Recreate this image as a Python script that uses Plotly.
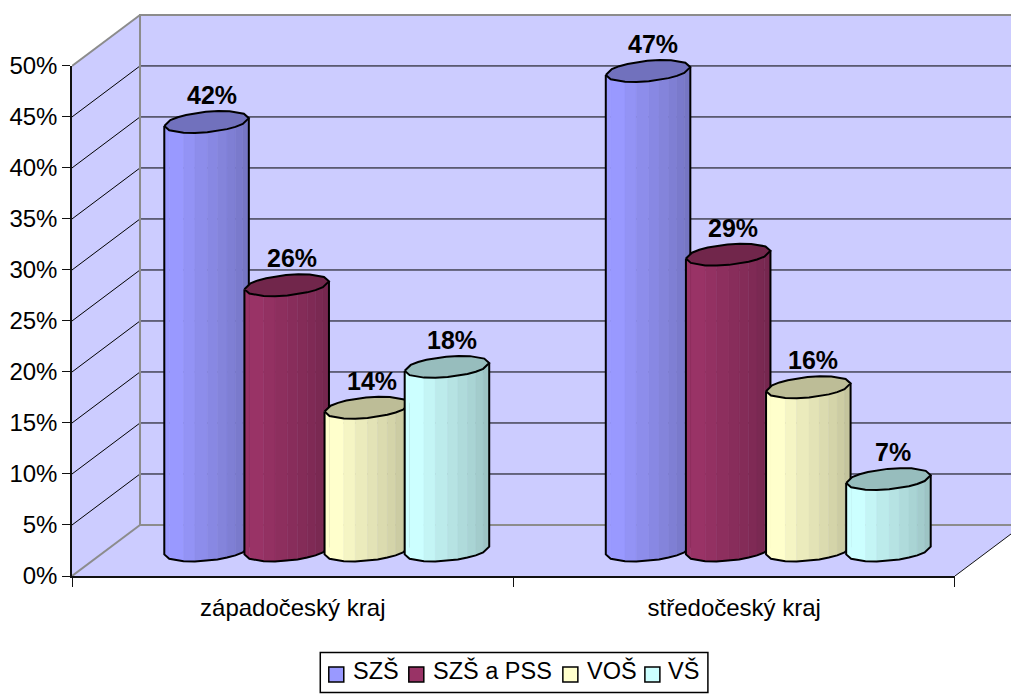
import numpy as np
import plotly.graph_objects as go

# Chart data
regions = ["západočeský kraj", "středočeský kraj"]
series_names = ["SZŠ", "SZŠ a PSS", "VOŠ", "VŠ"]
szs = [42, 47]
szs_pss = [26, 29]
vos = [14, 16]
vs = [18, 7]
series_values = [szs, szs_pss, vos, vs]
percent_ticks = [0, 5, 10, 15, 20, 25, 30, 35, 40, 45, 50]

# Colours
base_colors = [(153, 153, 255), (153, 51, 102), (255, 255, 204), (204, 255, 255)]
WALL = "#CCCCFF"
WALL_EDGE = "#8C8C8C"

# Page geometry, in pixels
W, H = 1011, 695
LEFT, BOTTOM = 72.3, 118.5
PX_PER_REGION = 441.35
PX_PER_PCT = 10.21
PLOT_W, PLOT_H = W - LEFT, H - BOTTOM

# Legend box layout, in page pixels
LEGEND_BOX = (320.5, 653, 708, 693)
LEGEND_SWATCH_X = [329, 409, 563, 645]
LEGEND_TEXT_X = [351, 431, 585, 666]
LEGEND_SWATCH_SIZE = 15
LEGEND_MID_Y = 671

# Oblique depth of the 3D box, in axis units
DEPTH_X = 68 / PX_PER_REGION
DEPTH_Y = 5.0

# Cylinder shape, in axis units
BAR_STEP = 0.1815
RAD_X = 39.5 / PX_PER_REGION
SHEAR_X = 15 / PX_PER_REGION
RAD_Y = 11 / PX_PER_PCT
T0 = np.arctan2(SHEAR_X, RAD_X)

# Facet edges across the visible face (degrees from the left silhouette) and their shading
FACET_DEG = [0, 28, 57, 74, 91, 105, 119, 133, 149, 180]
FACET_SHADE = [1.0, 1.0, 0.96, 0.92, 0.89, 0.86, 0.83, 0.80, 0.77]
TOP_SHADE = 0.74


def rgb(color, k=1.0):
    return "rgb({},{},{})".format(*[int(round(c * k)) for c in color])


def ring(cx, cy, angles):
    t = np.asarray(angles)
    return cx + RAD_X * np.cos(t) + SHEAR_X * np.sin(t), cy + RAD_Y * np.sin(t)


def poly(xs, ys, fill=None, line=None, width=0):
    return go.Scatter(
        x=list(xs), y=list(ys), mode="lines", xaxis="x", yaxis="y",
        fill="toself" if fill else "none", fillcolor=fill,
        line=dict(color=line or "rgba(0,0,0,0)", width=width),
        hoverinfo="skip", showlegend=False,
    )


def page_x(px):
    return (px - LEFT) / PLOT_W


def page_y(px):
    return (PLOT_H - px) / PLOT_H


fig = go.Figure()

# Walls and floor of the box
fig.add_trace(poly([0, 2, 2 + DEPTH_X, DEPTH_X, 0], [0, 0, DEPTH_Y, DEPTH_Y, 0], WALL))
fig.add_trace(poly([0, DEPTH_X, DEPTH_X, 0, 0], [0, DEPTH_Y, 50 + DEPTH_Y, 50, 0], WALL))
fig.add_trace(poly([DEPTH_X, 2 + DEPTH_X, 2 + DEPTH_X, DEPTH_X, DEPTH_X],
                   [DEPTH_Y, DEPTH_Y, 50 + DEPTH_Y, 50 + DEPTH_Y, DEPTH_Y], WALL))

# Gridlines over the side wall and back wall
for p in percent_ticks[1:-1]:
    fig.add_trace(poly([0, DEPTH_X, 2 + DEPTH_X], [p, p + DEPTH_Y, p + DEPTH_Y], line="#000000", width=1))

# Wall edges and the right side of the floor
fig.add_trace(poly([2 + DEPTH_X, DEPTH_X, DEPTH_X, 2 + DEPTH_X],
                   [DEPTH_Y, DEPTH_Y, 50 + DEPTH_Y, 50 + DEPTH_Y], line=WALL_EDGE, width=2))
fig.add_trace(poly([0, DEPTH_X], [0, DEPTH_Y], line=WALL_EDGE, width=2))
fig.add_trace(poly([0, DEPTH_X], [50, 50 + DEPTH_Y], line=WALL_EDGE, width=2))
fig.add_trace(poly([2, 2 + DEPTH_X], [0, DEPTH_Y], line="#111111", width=1))

# Cylinders, drawn left to right so each one overlaps its left neighbour
front_angles = T0 + np.pi + np.radians(FACET_DEG)
back_angles = T0 + np.radians(FACET_DEG)
all_angles = np.concatenate([front_angles[:-1], back_angles[:-1], front_angles[:1]])
annotations = []

for r in range(len(regions)):
    for s, values in enumerate(series_values):
        v = values[r]
        cx = r + 0.5 + DEPTH_X / 2 + (s - 1.5) * BAR_STEP
        cy = DEPTH_Y / 2
        color = base_colors[s]
        bx, by = ring(cx, cy, front_angles)
        tx, ty = ring(cx, cy + v, front_angles)
        for i, shade in enumerate(FACET_SHADE):
            c = rgb(color, shade)
            fig.add_trace(poly([bx[i], bx[i + 1], tx[i + 1], tx[i], bx[i]],
                               [by[i], by[i + 1], ty[i + 1], ty[i], by[i]],
                               fill=c, line=c, width=0.5))
        fig.add_trace(poly([tx[0], *bx, tx[-1]], [ty[0], *by, ty[-1]], line="#000000", width=2))
        cap_x, cap_y = ring(cx, cy + v, all_angles)
        fig.add_trace(poly(cap_x, cap_y, fill=rgb(color, TOP_SHADE), line="#000000", width=2))
        annotations.append(dict(
            x=cx, y=cy + v, xref="x", yref="y", text=f"<b>{v}%</b>", showarrow=False,
            xshift=5, yshift=27, font=dict(family="Liberation Sans", size=25, color="#000000"),
            xanchor="center", yanchor="middle",
        ))

# An empty trace brings the value axes into the figure
fig.add_trace(go.Scatter(x=[None], y=[None], mode="markers", xaxis="x2", yaxis="y2", showlegend=False))

# Boxed legend below the plot
shapes = [dict(
    type="rect", xref="paper", yref="paper",
    x0=page_x(LEGEND_BOX[0]), x1=page_x(LEGEND_BOX[2]),
    y0=page_y(LEGEND_BOX[1]), y1=page_y(LEGEND_BOX[3]),
    line=dict(color="#000000", width=1.5), fillcolor="#FFFFFF",
)]
half = LEGEND_SWATCH_SIZE / 2
for name, color, sx, tx0 in zip(series_names, base_colors, LEGEND_SWATCH_X, LEGEND_TEXT_X):
    shapes.append(dict(
        type="rect", xref="paper", yref="paper",
        x0=page_x(sx), x1=page_x(sx + LEGEND_SWATCH_SIZE),
        y0=page_y(LEGEND_MID_Y - half + 4), y1=page_y(LEGEND_MID_Y + half + 4),
        line=dict(color="#000000", width=1.5), fillcolor=rgb(color),
    ))
    annotations.append(dict(
        x=page_x(tx0), y=page_y(LEGEND_MID_Y), xref="paper", yref="paper", text=name,
        showarrow=False, xanchor="left", yanchor="middle",
        font=dict(family="Liberation Sans", size=23.5, color="#000000"),
    ))

fig.update_layout(
    width=W, height=H, autosize=False,
    margin=dict(l=LEFT, r=0, t=0, b=BOTTOM, pad=0),
    paper_bgcolor="#FFFFFF", plot_bgcolor="rgba(0,0,0,0)",
    font=dict(family="Liberation Sans", size=24, color="#000000"),
    annotations=annotations, shapes=shapes,
    showlegend=False,
    # Drawing canvas that also holds the box's depth
    xaxis=dict(range=[0, PLOT_W / PX_PER_REGION], visible=False, fixedrange=True, automargin=False),
    yaxis=dict(range=[0, PLOT_H / PX_PER_PCT], visible=False, fixedrange=True, automargin=False),
    # Value axes on the front plane of the box
    xaxis2=dict(
        domain=[0, 2 * PX_PER_REGION / PLOT_W], range=[0, 2], anchor="y2", automargin=False,
        showline=True, linecolor="#111111", linewidth=1.5, showgrid=False, zeroline=False,
        tickmode="array", tickvals=[0.5, 1.5], ticktext=regions, ticks="", ticklen=0,
        ticklabelstandoff=9,
        minor=dict(tickmode="array", tickvals=[0, 1, 2], ticks="outside", ticklen=9,
                   tickcolor="#111111", tickwidth=1, showgrid=False),
        tickfont=dict(size=24),
    ),
    yaxis2=dict(
        domain=[0, 50 * PX_PER_PCT / PLOT_H], range=[0, 50], anchor="x2", automargin=False,
        showline=True, linecolor="#111111", linewidth=1.5, showgrid=False, zeroline=False,
        tickmode="array", tickvals=percent_ticks, ticktext=[f"{p}%" for p in percent_ticks],
        ticks="outside", ticklen=8, tickcolor="#111111", tickwidth=1,
        tickfont=dict(size=24),
    ),
    hovermode=False,
)

fig.write_html("out.html")
